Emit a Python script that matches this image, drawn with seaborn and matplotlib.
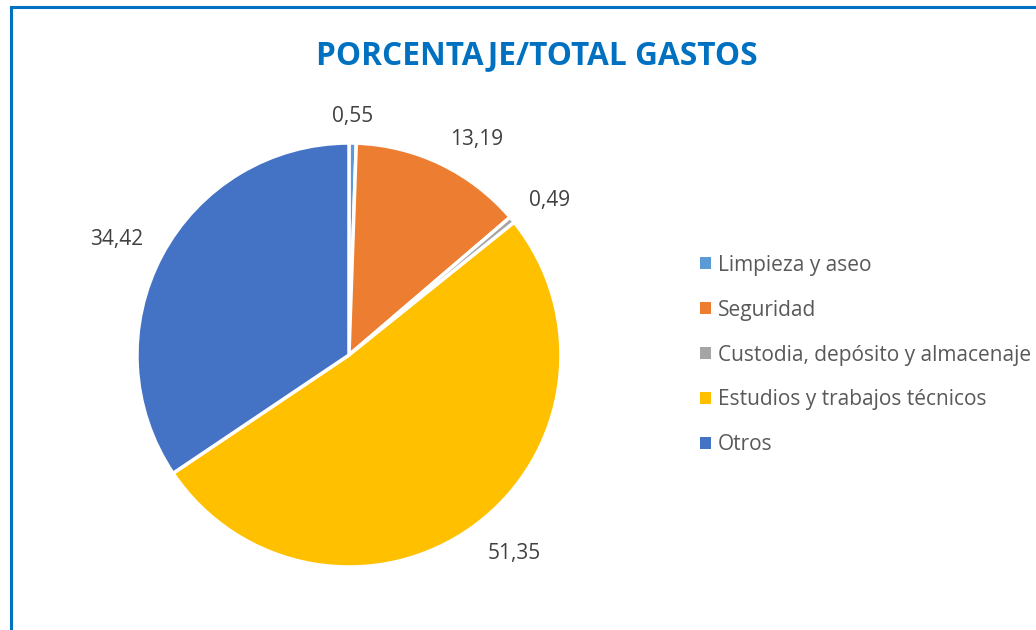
import matplotlib
matplotlib.use('Agg')
import matplotlib.pyplot as plt
from matplotlib.patches import Rectangle, Patch
import numpy as np
import seaborn as sns

categories = ['Limpieza y aseo', 'Seguridad', 'Custodia, depósito y almacenaje',
              'Estudios y trabajos técnicos', 'Otros']
values = [0.55, 13.19, 0.49, 51.35, 34.42]
colors = ['#5B9BD5', '#ED7D31', '#A5A5A5', '#FFC000', '#4472C4']
title = 'PORCENTAJE/TOTAL GASTOS'

sns.set_theme(style='white')
plt.rcParams['font.family'] = ['Open Sans', 'DejaVu Sans']

fig = plt.figure(figsize=(10.36, 6.3), dpi=100)
ax = fig.add_axes([0.1322, 0.1, 0.4093, 0.673])

wedges, _ = ax.pie(values, colors=colors, startangle=90, counterclock=False,
                   wedgeprops=dict(edgecolor='white', linewidth=2.5))

# labels "outside end", like excel
for w, v in zip(wedges, values):
    ang = np.deg2rad((w.theta1 + w.theta2) / 2)
    c, s = np.cos(ang), np.sin(ang)
    ha = 'center' if abs(c) < 0.3 else ('left' if c > 0 else 'right')
    va = 'center' if abs(s) < 0.3 else ('baseline' if s > 0 else 'top')
    ax.text(1.1 * c, 1.1 * s, f'{v:.2f}'.replace('.', ','), ha=ha, va=va,
            fontsize=15, color='#404040')

ax.set_xlim(-1, 1)
ax.set_ylim(-1, 1)
ax.set_aspect('equal')
ax.axis('off')

fig.text(0.518, 0.912, title, ha='center', va='center', fontsize=22.8,
         fontweight='bold', color='#0070C0')

handles = [Patch(facecolor=c, edgecolor='none') for c in colors]
fig.legend(handles, categories, loc='center left', bbox_to_anchor=(0.658, 0.4365),
           frameon=False, fontsize=15, handlelength=0.5, handleheight=0.5,
           handletextpad=0.35, labelspacing=1.15, labelcolor='#595959')

border = Rectangle((11 / 1036, -0.1), 1.2, 1.1 - 7 / 630, transform=fig.transFigure,
                   fill=False, edgecolor='#0070C0', linewidth=2.2, clip_on=False)
fig.patches.append(border)

fig.savefig('out.png', dpi=100, facecolor='white')
